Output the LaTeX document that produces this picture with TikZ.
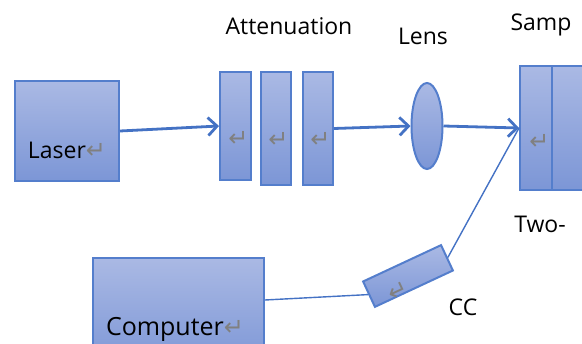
\documentclass[tikz,border=0pt]{standalone}
\usepackage{fontspec}
\setmainfont{Open Sans}
\newfontfamily\markfont{DejaVu Sans}
\usetikzlibrary{arrows.meta,shapes.geometric}

\definecolor{edgeblue}{RGB}{84,126,204}
\definecolor{filltop}{RGB}{170,185,228}
\definecolor{fillbot}{RGB}{124,150,214}
\definecolor{beamblue}{RGB}{68,114,196}
\newcommand{\retmark}{{\markfont\fontsize{24}{24}\selectfont\color{gray}\char"21B5}}

\begin{document}
\begin{tikzpicture}
  [x=1pt, y=-1pt, font=\fontsize{23}{26}\selectfont,
   part/.style={draw=edgeblue, line width=2pt, top color=filltop, bottom color=fillbot,
                inner sep=0pt, anchor=north west},
   ray/.style={-{Straight Barb[length=9pt,width=18pt]}, beamblue, line width=2.8pt},
   wire/.style={beamblue, line width=1.4pt}]
	\useasboundingbox (0,0) rectangle (582,344);
	\clip (0,0) rectangle (582,344);

	\node [part, name=laser, minimum width=104pt, minimum height=100pt] at (14,80) {};
	\node [name=lasertxt, anchor=base] at ([yshift=23pt]laser.south) {Laser\retmark};

	\node [part, name=att1, minimum width=31pt, minimum height=108pt] at (219,71) {};
	\node [part, name=att2, minimum width=30pt, minimum height=113pt] at (260,71) {};
	\node [part, name=att3, minimum width=30pt, minimum height=113pt] at (302,71) {};
	\node [name=attmark1, anchor=east] at ([yshift=-13pt]att1.east) {\retmark};
	\node [name=attmark2, anchor=east] at ([yshift=-11pt]att2.east) {\retmark};
	\node [name=attmark3, anchor=east] at ([yshift=-11pt]att3.east) {\retmark};
	\node [name=atttxt, anchor=base] at (289,35) {Attenuation};

	\node [part, name=lens, ellipse, anchor=center, minimum width=31pt, minimum height=86pt] at (427,126) {};
	\node [name=lenstxt, anchor=base] at (423,45) {Lens};

	\node [part, name=sample, minimum width=110pt, minimum height=124pt] at (519,65) {};
	\node [part, name=samplefront, minimum width=32pt, minimum height=124pt] at (519,65) {};
	\node [name=samplemark, anchor=east] at ([yshift=-14pt]samplefront.east) {\retmark};
	\node [name=sampletxt, anchor=base] at (541,31) {Samp};
	\node [name=twotxt, anchor=base] at (540,233) {Two-};

	\node [part, name=ccd, anchor=center, minimum width=86pt, minimum height=28pt, rotate=25] at (408,276) {};
	\node [name=ccdmark, rotate=25] at (398,291) {\retmark};
	\node [name=ccdtxt, anchor=base] at (463,316) {CC};

	\node [part, name=computer, minimum width=171pt, minimum height=110pt] at (92,257) {};
	\node [name=comptxt, anchor=base, font=\fontsize{25}{28}\selectfont] at (175,336) {Computer\retmark};

	\draw [ray] (laser.east) -- (att1.west);
	\draw [ray] (att3.east) -- (lens.west);
	\draw [ray] (lens.east) -- (sample.west);
	\draw [wire] (ccd.east) -- (sample.west);
	\draw [wire] ([yshift=-43pt]computer.north east) -- (ccd.west);
\end{tikzpicture}
\end{document}
